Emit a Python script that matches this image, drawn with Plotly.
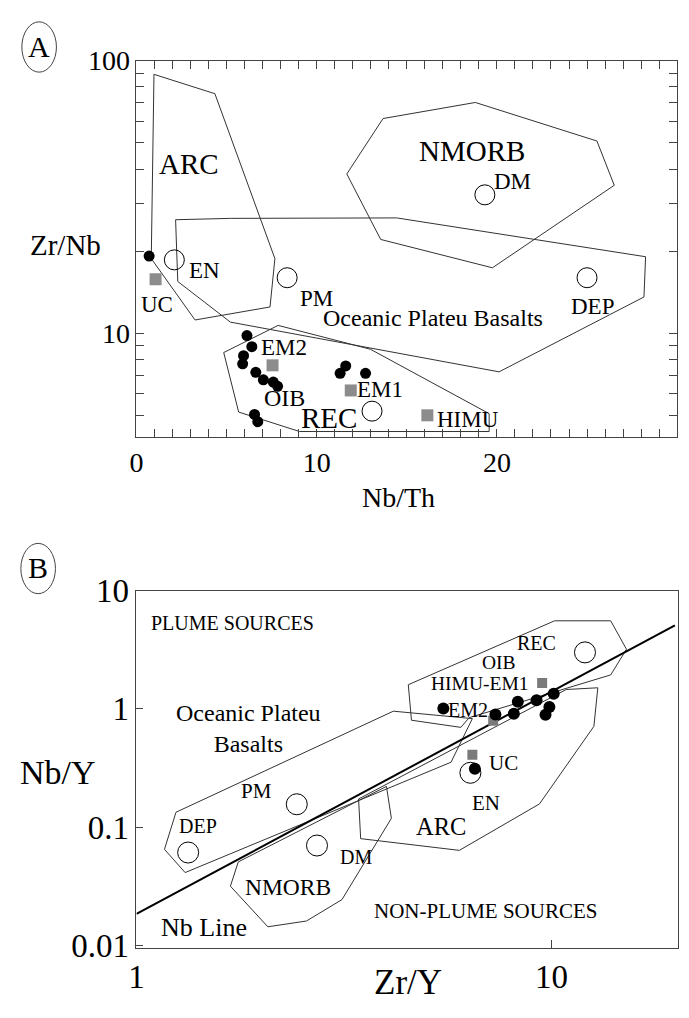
import numpy as np
import plotly.graph_objects as go

W, H = 689, 1018
FONT = "Liberation Serif, Times New Roman, serif"
LINE = "#333333"
FRAME = "#444444"

# ---------------- Panel A : Zr/Nb vs Nb/Th ----------------
a_dots_x = [0.70, 6.13, 6.40, 5.94, 5.89, 6.62, 7.04, 7.59, 7.83, 6.55, 6.73, 11.61, 11.30, 12.71]
a_dots_y = [19.2, 9.82, 8.94, 8.29, 7.74, 7.20, 6.76, 6.63, 6.40, 5.05, 4.75, 7.60, 7.14, 7.14]

a_sq_x = [1.06, 7.55, 11.89, 16.14]          # UC, EM2, EM1, HIMU
a_sq_y = [15.8, 7.64, 6.18, 5.01]

a_circ_x = [19.33, 2.10, 8.36, 25.0, 13.07]  # DM, EN, PM, DEP, REC
a_circ_y = [32.2, 18.6, 16.0, 16.0, 5.19]

a_arc_x = [0.97, 4.35, 7.68, 7.41, 3.25, 0.82]
a_arc_y = [89.0, 75.6, 18.8, 12.5, 11.2, 18.8]
a_nmorb_x = [13.68, 18.80, 25.55, 26.51, 19.75, 13.55, 11.67]
a_nmorb_y = [61.3, 70.2, 50.7, 34.9, 17.4, 22.1, 38.4]
a_opb_x = [2.17, 5.21, 14.44, 28.25, 28.16, 20.12, 5.21, 2.29]
a_opb_y = [26.1, 26.4, 26.5, 19.1, 13.6, 7.23, 11.0, 15.5]
a_rec_x = [4.84, 7.86, 12.98, 19.57, 19.57, 9.05, 5.67]
a_rec_y = [8.51, 10.7, 8.75, 5.08, 4.37, 4.37, 5.15]

a_xticks = list(range(0, 31))
a_xtext = [str(v) if v % 10 == 0 else "" for v in a_xticks]
a_yticks = [5, 6, 7, 8, 9, 10, 20, 30, 40, 50, 60, 70, 80, 90, 100]
a_ytext = ["", "", "", "", "", "10", "", "", "", "", "", "", "", "", "100"]

a_labels = ["ARC", "NMORB", "DM", "EN", "UC", "PM", "Oceanic Plateu Basalts", "DEP",
            "EM2", "OIB", "REC", "EM1", "HIMU"]
a_lab_x = [2.92, 18.61, 20.84, 3.75, 1.15, 9.97, 16.46, 25.33, 8.19, 8.23, 10.70, 13.53, 18.38]
a_lab_y = [41.8, 46.7, 36.0, 17.0, 12.8, 13.4, 11.4, 12.5, 8.87, 5.79, 4.88, 6.23, 4.84]
a_lab_size = [29, 29, 23, 23, 23, 23, 24, 23, 23, 24, 29, 23, 23]

# ---------------- Panel B : Nb/Y vs Zr/Y ----------------
b_dots_x = [5.49, 7.33, 8.12, 8.30, 9.21, 10.13, 9.89, 9.68, 6.54]
b_dots_y = [1.006, 0.898, 0.910, 1.148, 1.185, 1.345, 1.04, 0.893, 0.312]

b_sq_x = [9.50, 7.24, 6.45]                   # HIMU-EM1, EM2, UC
b_sq_y = [1.655, 0.793, 0.41]

b_circ_x = [12.05, 6.38, 2.434, 1.332, 2.723]  # REC, EN, PM, DEP, DM
b_circ_y = [3.01, 0.288, 0.156, 0.0609, 0.0698]

b_nbline_x = [1.0, 19.85]
b_nbline_y = [0.0184, 5.1]

b_rec_x = [4.52, 10.18, 13.9, 15.17, 13.9, 6.34, 6.05, 4.60]
b_rec_y = [1.603, 5.57, 5.57, 3.20, 1.94, 0.844, 0.698, 0.802]
b_arc_x = [3.43, 10.86, 12.94, 12.66, 9.36, 6.00, 3.47]
b_arc_y = [0.173, 1.46, 1.51, 0.712, 0.157, 0.0635, 0.0798]
b_nmorb_x = [1.759, 1.684, 2.073, 2.568, 3.127, 4.115, 4.004]
b_nmorb_y = [0.0507, 0.0316, 0.01432, 0.01603, 0.0243, 0.1186, 0.221]
b_opb_x = [1.245, 1.168, 1.31, 5.73, 6.45, 4.16]
b_opb_y = [0.1335, 0.0648, 0.0412, 0.354, 0.828, 0.957]

b_xticks = [1, 10]
b_xtext = ["1", "10"]
b_yticks = [0.01, 0.1, 1, 10]
b_ytext = ["0.01", "0.1", "1", "10"]

b_labels = ["PLUME SOURCES", "Oceanic Plateu<br>Basalts", "PM", "DEP", "DM", "NMORB", "Nb Line",
            "ARC", "EN", "NON-PLUME SOURCES", "UC", "EM2", "HIMU-EM1", "OIB", "REC"]
b_lab_x = [1.70, 1.861, 1.949, 1.403, 3.39, 2.317, 1.454, 5.42, 6.94, 6.92, 7.67, 6.31, 6.73, 7.47, 9.21]
b_lab_y = [5.29, 0.685, 0.201, 0.1019, 0.0554, 0.0308, 0.01413, 0.1006, 0.1594, 0.01936, 0.3495,
           0.981, 1.655, 2.47, 3.63]
b_lab_size = [20, 24, 21, 20, 20, 23.5, 26, 24.5, 21, 21, 21, 20, 19.5, 19.5, 20]


def closed(xs, ys):
    return list(xs) + [xs[0]], list(ys) + [ys[0]]


fig = go.Figure()


def add_poly(xs, ys, xa, ya):
    cx, cy = closed(xs, ys)
    fig.add_trace(go.Scatter(x=cx, y=cy, mode="lines", line=dict(color=LINE, width=1),
                             xaxis=xa, yaxis=ya, hoverinfo="skip"))


for px_, py_ in [(a_arc_x, a_arc_y), (a_nmorb_x, a_nmorb_y), (a_opb_x, a_opb_y), (a_rec_x, a_rec_y)]:
    add_poly(px_, py_, "x", "y")
for px_, py_ in [(b_rec_x, b_rec_y), (b_arc_x, b_arc_y), (b_nmorb_x, b_nmorb_y), (b_opb_x, b_opb_y)]:
    add_poly(px_, py_, "x2", "y2")

fig.add_trace(go.Scatter(x=b_nbline_x, y=b_nbline_y, mode="lines", line=dict(color="black", width=2),
                         xaxis="x2", yaxis="y2"))

# markers panel A
fig.add_trace(go.Scatter(x=a_circ_x, y=a_circ_y, mode="markers", xaxis="x", yaxis="y",
                         marker=dict(symbol="circle-open", size=20, color="black", line=dict(width=1))))
fig.add_trace(go.Scatter(x=a_sq_x, y=a_sq_y, mode="markers", xaxis="x", yaxis="y",
                         marker=dict(symbol="square", size=12, color="#8c8c8c")))
fig.add_trace(go.Scatter(x=a_dots_x, y=a_dots_y, mode="markers", xaxis="x", yaxis="y",
                         marker=dict(symbol="circle", size=11, color="black")))
# markers panel B
fig.add_trace(go.Scatter(x=b_circ_x, y=b_circ_y, mode="markers", xaxis="x2", yaxis="y2",
                         marker=dict(symbol="circle-open", size=21, color="black", line=dict(width=1))))
fig.add_trace(go.Scatter(x=b_sq_x, y=b_sq_y, mode="markers", xaxis="x2", yaxis="y2",
                         marker=dict(symbol="square", size=10, color="#7a7a7a")))
fig.add_trace(go.Scatter(x=b_dots_x, y=b_dots_y, mode="markers", xaxis="x2", yaxis="y2",
                         marker=dict(symbol="circle", size=12, color="black")))

annotations = []
for t, x, y, s in zip(a_labels, a_lab_x, a_lab_y, a_lab_size):
    annotations.append(dict(text=t, x=x, y=np.log10(y), xref="x", yref="y", showarrow=False,
                            font=dict(family=FONT, size=s, color="black")))
for t, x, y, s in zip(b_labels, b_lab_x, b_lab_y, b_lab_size):
    annotations.append(dict(text=t, x=np.log10(x), y=np.log10(y), xref="x2", yref="y2", showarrow=False,
                            font=dict(family=FONT, size=s, color="black")))


def px(x):
    return x / W


def py(y):
    return 1 - y / H


# axis titles and panel letters
for t, x, y, s in [("Zr/Nb", 58, 236, 29), ("Nb/Th", 395, 497, 28), ("Nb/Y", 51, 781, 34),
                   ("Zr/Y", 405, 998, 35), ("A", 31.5, 31, 30), ("B", 30, 569, 30)]:
    annotations.append(dict(text=t, x=px(x), y=py(y), xref="paper", yref="paper", showarrow=False,
                            xanchor="center", yanchor="middle",
                            font=dict(family=FONT, size=s, color="black")))

shapes = [
    dict(type="circle", xref="paper", yref="paper", x0=px(14), x1=px(49), y0=py(57), y1=py(5),
         line=dict(color="#444", width=1)),
    dict(type="circle", xref="paper", yref="paper", x0=px(13), x1=px(48), y0=py(596), y1=py(544),
         line=dict(color="#444", width=1)),
]

tickfont_a = dict(family=FONT, size=28, color="black")
tickfont_b = dict(family=FONT, size=33, color="black")

fig.update_layout(
    width=W, height=H, margin=dict(l=0, r=0, t=0, b=0),
    paper_bgcolor="white", plot_bgcolor="white", showlegend=False,
    annotations=annotations, shapes=shapes,
    xaxis=dict(domain=[px(130), px(677)], range=[0, 30], anchor="y",
               tickmode="array", tickvals=a_xticks, ticktext=a_xtext,
               ticks="inside", ticklen=8, tickcolor=FRAME, showline=True, linecolor=FRAME,
               linewidth=1, mirror="ticks", showgrid=False, zeroline=False, tickfont=tickfont_a),
    yaxis=dict(domain=[py(434), py(45)], type="log", range=[np.log10(4.175), 2], anchor="x",
               tickmode="array", tickvals=a_yticks, ticktext=a_ytext,
               ticks="inside", ticklen=8, tickcolor=FRAME, showline=True, linecolor=FRAME,
               linewidth=1, mirror="ticks", showgrid=False, zeroline=False, tickfont=tickfont_a),
    xaxis2=dict(domain=[px(130), px(678)], type="log", range=[0, 1.3055], anchor="y2",
                tickmode="array", tickvals=b_xticks, ticktext=b_xtext,
                ticks="inside", ticklen=8, tickcolor=FRAME, showline=True, linecolor=FRAME,
                linewidth=1, mirror=True, showgrid=False, zeroline=False, tickfont=tickfont_b),
    yaxis2=dict(domain=[py(962), py(593)], type="log", range=[-2.022, 1], anchor="x2",
                tickmode="array", tickvals=b_yticks, ticktext=b_ytext,
                ticks="inside", ticklen=7, tickcolor=FRAME, showline=True, linecolor=FRAME,
                linewidth=1, mirror=True, showgrid=False, zeroline=False, tickfont=tickfont_b),
)

fig.write_html("out.html")
